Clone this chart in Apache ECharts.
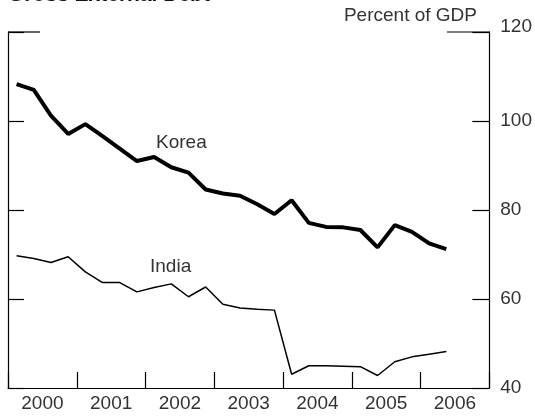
<!DOCTYPE html>
<html><head><meta charset="utf-8">
<script src="https://cdn.jsdelivr.net/npm/echarts@6/dist/echarts.min.js"></script>
<style>html,body{margin:0;padding:0;background:#fff}#c{width:535px;height:418px}</style>
</head><body><div id="c"></div>
<script>
const years = ['2000','2001','2002','2003','2004','2005','2006'];
const quarters = ['2000Q1','2000Q2','2000Q3','2000Q4','2001Q1','2001Q2','2001Q3','2001Q4',
  '2002Q1','2002Q2','2002Q3','2002Q4','2003Q1','2003Q2','2003Q3','2003Q4',
  '2004Q1','2004Q2','2004Q3','2004Q4','2005Q1','2005Q2','2005Q3','2005Q4',
  '2006Q1','2006Q2','2006Q3','2006Q4'];
const korea = [108.3,107.0,101.2,97.1,99.3,96.6,93.8,91.0,91.9,89.6,88.4,84.6,83.7,83.2,81.3,79.1,82.2,77.1,76.2,76.1,75.5,71.6,76.6,75.1,72.5,71.2];
const india = [69.7,69.1,68.2,69.5,66.1,63.7,63.7,61.6,62.6,63.4,60.5,62.7,58.8,58.0,57.7,57.5,43.1,45.0,45.0,44.9,44.8,42.8,45.9,47.0,47.6,48.2];
const yTicks = [40,60,80,100,120];

const font = 'Liberation Sans, Arial, sans-serif';
const chart = echarts.init(document.getElementById('c'), null, {renderer:'canvas'});
chart.setOption({
  animation:false,
  backgroundColor:'#fff',
  grid:{left:8,right:45,top:32,bottom:30},
  xAxis:[{
    type:'category', data:years, boundaryGap:true, position:'bottom',
    axisLine:{show:true,onZero:false,lineStyle:{color:'#000',width:1.2}},
    axisTick:{show:true,inside:true,length:16,interval:0,lineStyle:{color:'#000',width:1.2}},
    axisLabel:{color:'#333',fontSize:19,fontFamily:font,margin:6,interval:0},
    splitLine:{show:false}
  },{
    type:'category', data:quarters, boundaryGap:true, show:false
  }],
  yAxis:[{
    type:'value', min:yTicks[0], max:yTicks[yTicks.length-1], interval:20, position:'left',
    axisLine:{show:true,onZero:false,lineStyle:{color:'#000',width:1.2}},
    axisTick:{show:true,inside:true,length:16,lineStyle:{color:'#000',width:1.2}},
    axisLabel:{show:false}, splitLine:{show:false}
  },{
    type:'value', min:yTicks[0], max:yTicks[yTicks.length-1], interval:20, position:'right',
    axisLine:{show:true,onZero:false,lineStyle:{color:'#000',width:1.2}},
    axisTick:{show:true,inside:true,length:17,lineStyle:{color:'#000',width:1.2}},
    axisLabel:{color:'#333',fontSize:19,fontFamily:font,margin:11,
      formatter:v=> v===120 ? '{t|120}' : String(v),
      rich:{t:{fontSize:19,fontFamily:font,color:'#333',padding:[0,0,10,0]}}},
    splitLine:{show:false}
  }],
  graphic:[
    {type:'line',shape:{x1:8,y1:32,x2:40,y2:32},style:{stroke:'#000',lineWidth:1.2}},
    {type:'line',shape:{x1:447,y1:32,x2:490,y2:32},style:{stroke:'#000',lineWidth:1.2}},
    {type:'text',left:8,top:-15,style:{text:'Gross External Debt',fontSize:21,fontWeight:'bold',fontFamily:font,fill:'#111'}},
    {type:'text',right:58,top:6,style:{text:'Percent of GDP',fontSize:19,fontFamily:font,fill:'#333'}},
    {type:'text',left:156,top:133,style:{text:'Korea',fontSize:19,fontFamily:font,fill:'#333'}},
    {type:'text',left:150,top:257,style:{text:'India',fontSize:19,fontFamily:font,fill:'#333'}}
  ],
  series:[
    {name:'Korea',type:'line',xAxisIndex:1,yAxisIndex:0,data:korea,showSymbol:false,
     lineStyle:{color:'#000',width:4},silent:true},
    {name:'India',type:'line',xAxisIndex:1,yAxisIndex:0,data:india,showSymbol:false,
     lineStyle:{color:'#000',width:1.5},silent:true}
  ]
});
</script></body></html>
